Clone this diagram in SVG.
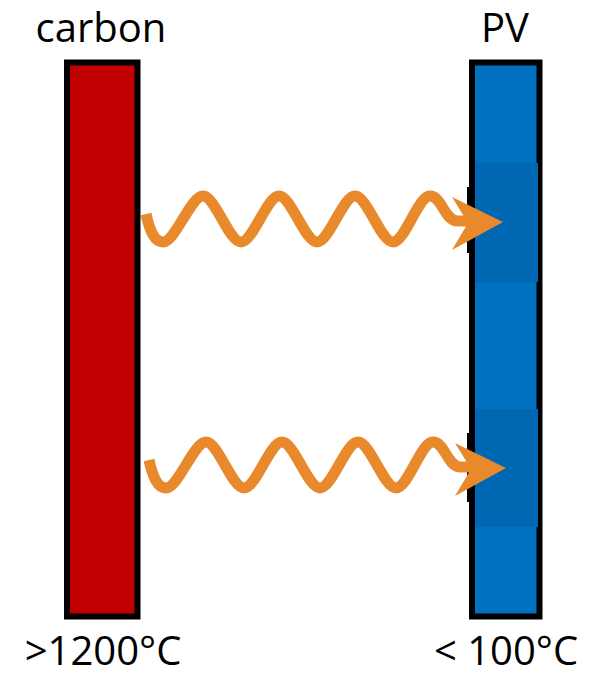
<svg xmlns="http://www.w3.org/2000/svg" width="592" height="677" viewBox="0 0 592 677">
  <style>
    .bar { stroke: #000; stroke-width: 6; }
    .lbl { font-family: "Open Sans", "Liberation Sans", sans-serif; font-size: 40px; fill: #000; text-anchor: middle; }
    .wave { fill: none; stroke: #E8892B; stroke-width: 11; stroke-linecap: butt; stroke-linejoin: round; }
    .head { fill: #E8892B; }
  </style>
  <defs>
    <g id="photon">
      <path class="wave" d="M146,214 C150,232 155,242 163,242 C175,242 191,196 203,196 C215,196 229,242 241,242 C253,242 267,196 279,196 C291,196 305,242 317,242 C329,242 343,196 355,196 C367,196 381,242 393,242 C405,242 418,196 430,196 C442,196 444,221 458,221 L474,221"/>
      <path class="head" d="M452,197 L503,222 L452,250 L468,223 Z"/>
    </g>
  </defs>
  <g id="carbon">
    <rect class="bar" x="67" y="62.5" width="70.5" height="554" fill="#C00000"/>
    <text class="lbl" x="101" y="42">carbon</text>
    <text class="lbl" x="103" y="665" font-size="41">&gt;1200°C</text>
  </g>
  <g id="pv">
    <rect class="bar" x="472" y="62.5" width="67.5" height="554" fill="#0070C0"/>
    <rect x="475" y="163" width="63" height="119" fill="#0068B2"/>
    <rect x="475" y="409" width="63" height="118" fill="#0068B2"/>
    <rect x="467" y="187" width="4" height="66" fill="#000"/>
    <rect x="467" y="433" width="4" height="69" fill="#000"/>
    <text class="lbl" x="505" y="42">PV</text>
    <text class="lbl" x="506" y="665" font-size="41">&lt; 100°C</text>
  </g>
  <g id="connectors">
    <use href="#photon"/>
    <use href="#photon" transform="translate(3,246)"/>
  </g>
</svg>
